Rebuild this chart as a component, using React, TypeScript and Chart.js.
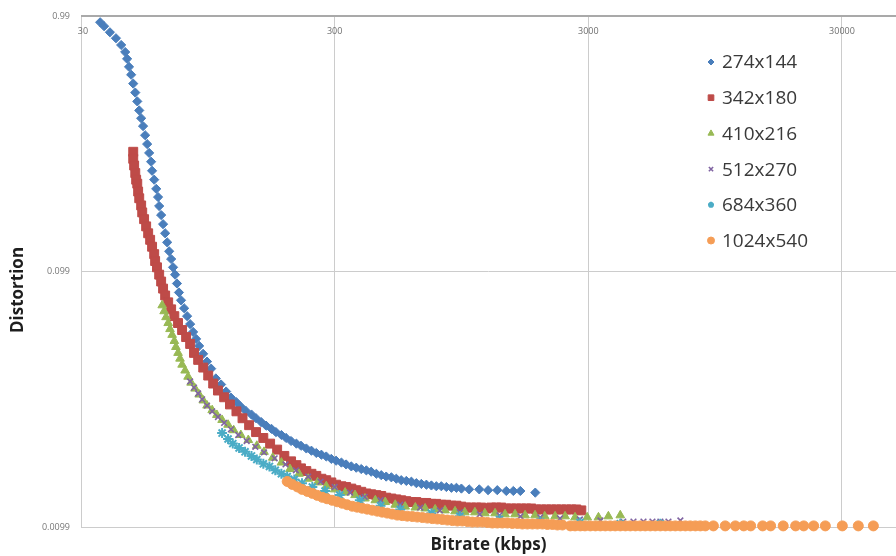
import React, { useEffect, useRef } from "react";
import { Chart, registerables } from "chart.js";
import { drawPoint } from "chart.js/helpers";

Chart.register(...registerables);

const seriesNames = ["274x144", "342x180", "410x216", "512x270", "684x360", "1024x540"];
const xTickValues = [30, 300, 3000, 30000];
const xTickLabels = ["30", "300", "3000", "30000"];
const yTickValues = [0.0099, 0.099, 0.99];
const yTickLabels = ["0.0099", "0.099", "0.99"];

const bitrate274 = [35.7, 37.0, 39.0, 41.2, 43.2, 44.8, 45.6, 46.4, 47.3, 48.2, 49.1, 50.0, 50.9, 51.8, 52.7, 53.7, 54.7, 55.7, 56.7, 57.2, 58.3, 59.4, 60.4, 61.0, 62.1, 63.2, 64.4, 65.6, 66.8, 68.0, 69.2, 70.5, 71.7, 73.0, 74.4, 76.5, 78.6, 80.8, 83.0, 85.3, 87.7, 90.9, 94.2, 97.8, 102, 107, 112, 117, 123, 128, 134, 141, 147, 154, 161, 169, 176, 185, 193, 202, 212, 221, 232, 243, 254, 266, 278, 291, 304, 319, 333, 349, 365, 382, 400, 418, 438, 458, 479, 502, 525, 549, 575, 602, 630, 659, 690, 722, 755, 790, 827, 866, 906, 948, 1017, 1115, 1208, 1313, 1425, 1519, 1619, 1854];
const distortion274 = [0.939, 0.906, 0.858, 0.813, 0.765, 0.718, 0.675, 0.628, 0.585, 0.540, 0.498, 0.460, 0.424, 0.395, 0.368, 0.339, 0.313, 0.289, 0.267, 0.246, 0.227, 0.209, 0.194, 0.179, 0.165, 0.152, 0.140, 0.129, 0.119, 0.111, 0.103, 0.0964, 0.0890, 0.0821, 0.0765, 0.0712, 0.0663, 0.0617, 0.0575, 0.0540, 0.0507, 0.0472, 0.0440, 0.0413, 0.0378, 0.0358, 0.0336, 0.0318, 0.0305, 0.0293, 0.0282, 0.0273, 0.0264, 0.0255, 0.0247, 0.0240, 0.0233, 0.0227, 0.0221, 0.0215, 0.0210, 0.0206, 0.0201, 0.0197, 0.0193, 0.0190, 0.0187, 0.0183, 0.0180, 0.0177, 0.0174, 0.0171, 0.0169, 0.0167, 0.0165, 0.0163, 0.0160, 0.0158, 0.0156, 0.0155, 0.0153, 0.0151, 0.0150, 0.0149, 0.0147, 0.0146, 0.0145, 0.0144, 0.0143, 0.0143, 0.0142, 0.0141, 0.0141, 0.0140, 0.0139, 0.0139, 0.0138, 0.0138, 0.0137, 0.0137, 0.0137, 0.0135];

const bitrate342 = [48.2, 48.2, 48.6, 49.1, 49.5, 50.0, 50.4, 50.9, 51.8, 52.3, 53.2, 54.2, 55.2, 56.2, 57.2, 58.3, 58.8, 59.8, 61.0, 62.1, 63.2, 64.4, 66.2, 68.0, 70.0, 72.4, 75.1, 77.9, 80.8, 83.7, 86.9, 91.0, 95.2, 99.6, 104, 110, 116, 123, 130, 138, 147, 157, 167, 178, 190, 202, 212, 221, 232, 243, 254, 266, 278, 291, 304, 319, 333, 349, 365, 382, 400, 418, 438, 458, 479, 502, 525, 549, 575, 602, 630, 659, 690, 722, 755, 790, 827, 866, 906, 948, 990, 1036, 1085, 1135, 1188, 1243, 1301, 1361, 1424, 1491, 1560, 1632, 1708, 1788, 1871, 1958, 2049, 2144, 2244, 2348, 2458, 2572, 2691, 2816];
const distortion342 = [0.292, 0.274, 0.258, 0.241, 0.227, 0.219, 0.204, 0.192, 0.180, 0.169, 0.159, 0.149, 0.140, 0.132, 0.124, 0.116, 0.109, 0.103, 0.0964, 0.0906, 0.0850, 0.0799, 0.0751, 0.0705, 0.0663, 0.0623, 0.0585, 0.0549, 0.0516, 0.0476, 0.0447, 0.0417, 0.0388, 0.0361, 0.0339, 0.0319, 0.0299, 0.0281, 0.0264, 0.0248, 0.0233, 0.0221, 0.0210, 0.0199, 0.0188, 0.0179, 0.0173, 0.0168, 0.0164, 0.0160, 0.0157, 0.0153, 0.0151, 0.0148, 0.0145, 0.0143, 0.0142, 0.0140, 0.0138, 0.0136, 0.0134, 0.0133, 0.0132, 0.0131, 0.0129, 0.0128, 0.0127, 0.0126, 0.0125, 0.0124, 0.0124, 0.0123, 0.0123, 0.0122, 0.0122, 0.0121, 0.0121, 0.0120, 0.0120, 0.0119, 0.0118, 0.0118, 0.0118, 0.0118, 0.0117, 0.0118, 0.0118, 0.0118, 0.0117, 0.0117, 0.0117, 0.0117, 0.0117, 0.0117, 0.0116, 0.0116, 0.0116, 0.0116, 0.0116, 0.0116, 0.0116, 0.0116, 0.0116, 0.0115];

const bitrate410 = [62.7, 63.8, 64.9, 66.2, 67.3, 68.6, 70.0, 71.0, 72.4, 73.7, 75.1, 77.2, 79.3, 81.5, 84.5, 87.7, 91.0, 94.2, 98.7, 103, 108, 114, 120, 128, 137, 148, 158, 171, 185, 200, 217, 236, 257, 278, 300, 330, 361, 395, 434, 475, 520, 569, 624, 682, 747, 817, 895, 978, 1072, 1173, 1287, 1409, 1543, 1690, 1850, 2020, 2220, 2430, 2660, 2970, 3290, 3600, 4010];
const distortion410 = [0.0731, 0.0693, 0.0657, 0.0623, 0.0590, 0.0560, 0.0530, 0.0502, 0.0476, 0.0452, 0.0428, 0.0406, 0.0384, 0.0364, 0.0345, 0.0327, 0.0310, 0.0296, 0.0284, 0.0272, 0.0260, 0.0249, 0.0237, 0.0227, 0.0217, 0.0206, 0.0195, 0.0185, 0.0177, 0.0167, 0.0160, 0.0153, 0.0148, 0.0143, 0.0139, 0.0135, 0.0132, 0.0128, 0.0126, 0.0124, 0.0121, 0.0119, 0.0118, 0.0117, 0.0116, 0.0115, 0.0114, 0.0113, 0.0113, 0.0112, 0.0112, 0.0111, 0.0111, 0.0110, 0.0110, 0.0109, 0.0109, 0.0109, 0.0108, 0.0108, 0.0108, 0.0109, 0.0110];

const bitrate512 = [80.8, 83.7, 86.9, 90.1, 94.2, 98.7, 104, 110, 117, 125, 135, 146, 158, 174, 192, 211, 236, 264, 300, 345, 394, 455, 544, 652, 780, 935, 1120, 1340, 1620, 1940, 2320, 2780, 3350, 4120, 4520, 4950, 5370, 5770, 6210, 6920];
const distortion512 = [0.0368, 0.0348, 0.0330, 0.0313, 0.0296, 0.0281, 0.0267, 0.0253, 0.0239, 0.0227, 0.0215, 0.0204, 0.0194, 0.0184, 0.0174, 0.0165, 0.0156, 0.0149, 0.0142, 0.0135, 0.0130, 0.0126, 0.0121, 0.0118, 0.0115, 0.0113, 0.0111, 0.0110, 0.0109, 0.0108, 0.0107, 0.0106, 0.0105, 0.0104, 0.0104, 0.0104, 0.0104, 0.0104, 0.0104, 0.0105];

const bitrate684 = [108, 114, 119, 126, 133, 141, 148, 157, 166, 175, 185, 195, 208, 223, 245, 275, 314, 377, 455, 544, 722, 935, 1340, 1940, 2780, 4010, 5770];
const distortion684 = [0.0231, 0.0219, 0.0210, 0.0202, 0.0195, 0.0188, 0.0182, 0.0175, 0.0171, 0.0165, 0.0160, 0.0156, 0.0152, 0.0147, 0.0142, 0.0137, 0.0132, 0.0126, 0.0120, 0.0116, 0.0112, 0.0109, 0.0106, 0.0104, 0.0103, 0.0102, 0.0102];

const bitrate1024 = [195, 204, 214, 223, 234, 245, 256, 268, 280, 293, 307, 321, 336, 352, 368, 385, 403, 422, 442, 462, 484, 506, 530, 554, 580, 607, 635, 665, 696, 728, 762, 797, 835, 873, 914, 956, 1001, 1047, 1096, 1147, 1200, 1256, 1314, 1375, 1439, 1506, 1576, 1649, 1726, 1806, 1890, 1978, 2070, 2166, 2267, 2372, 2549, 2660, 2790, 2910, 3055, 3200, 3346, 3500, 3663, 3830, 4011, 4200, 4392, 4600, 4810, 5030, 5267, 5510, 5768, 6040, 6316, 6610, 6917, 7240, 7574, 7930, 8294, 8680, 9340, 10400, 11400, 12300, 13100, 14600, 15700, 17600, 19700, 21200, 23200, 25800, 30100, 34800, 39900];
const distortion1024 = [0.01493, 0.01454, 0.01421, 0.01390, 0.01365, 0.01341, 0.01317, 0.01294, 0.01277, 0.01260, 0.01243, 0.01227, 0.01210, 0.01194, 0.01184, 0.01173, 0.01163, 0.01152, 0.01142, 0.01132, 0.01122, 0.01112, 0.01102, 0.01097, 0.01092, 0.01088, 0.01083, 0.01078, 0.01073, 0.01068, 0.01064, 0.01059, 0.01054, 0.01049, 0.01045, 0.01045, 0.01040, 0.01035, 0.01035, 0.01035, 0.01031, 0.01026, 0.01026, 0.01026, 0.01026, 0.01022, 0.01022, 0.01017, 0.01017, 0.01017, 0.01017, 0.01017, 0.01013, 0.01013, 0.01008, 0.01008, 0.0100, 0.0100, 0.0100, 0.0100, 0.0100, 0.0100, 0.0100, 0.0100, 0.0100, 0.0100, 0.0100, 0.0100, 0.0100, 0.0100, 0.0100, 0.0100, 0.0100, 0.0100, 0.0100, 0.0100, 0.0100, 0.0100, 0.0100, 0.0100, 0.0100, 0.0100, 0.0100, 0.0100, 0.0100, 0.0100, 0.0100, 0.0100, 0.0100, 0.0100, 0.0100, 0.0100, 0.0100, 0.0100, 0.0100, 0.0100, 0.0100, 0.0100, 0.0100];

const seriesX = [bitrate274, bitrate342, bitrate410, bitrate512, bitrate684, bitrate1024];
const seriesY = [distortion274, distortion342, distortion410, distortion512, distortion684, distortion1024];

const seriesColors = ["#4A7EBB", "#BE4B48", "#98B954", "#8064A2", "#4BACC6", "#F59D56"];
const seriesStyles = ["rectRot", "rect", "triangle", "crossRot", "star", "circle"];
const seriesRadius = [4.6, 6.3, 5, 4, 5, 5];
const legendRadius = [3, 4, 3.5, 3, 3, 3.5];

const overlayPlugin = {
  id: "overlay",
  afterDraw(chart: any) {
    const ctx = chart.ctx;
    const { top, left, right } = chart.chartArea;
    const xs = chart.scales.x;
    ctx.save();
    ctx.font = '9px "Open Sans"';
    ctx.fillStyle = "#6e6e6e";
    ctx.textAlign = "center";
    ctx.textBaseline = "middle";
    xTickValues.forEach((v, i) => {
      const px = xs.getPixelForValue(v);
      ctx.fillText(xTickLabels[i], i === 0 ? px + 2 : px, top + 15);
    });

    ctx.font = 'bold 17px "Open Sans"';
    ctx.fillStyle = "#1e1e1e";
    ctx.fillText("Bitrate (kbps)", (left + right) / 2, 545);
    ctx.save();
    ctx.translate(18, 290);
    ctx.rotate(-Math.PI / 2);
    ctx.fillText("Distortion", 0, 0);
    ctx.restore();

    ctx.font = '19px "Open Sans"';
    ctx.textAlign = "left";
    seriesNames.forEach((name, i) => {
      const y = 62 + i * 35.7;
      const ds = chart.data.datasets[i];
      ctx.fillStyle = ds.backgroundColor;
      ctx.strokeStyle = ds.borderColor;
      ctx.lineWidth = ds.borderWidth;
      drawPoint(ctx, { pointStyle: ds.pointStyle, radius: legendRadius[i], rotation: 0, borderWidth: ds.borderWidth }, 711, y);
      ctx.fillStyle = "#3a3a3a";
      ctx.fillText(name, 722, y + 1);
    });
    ctx.restore();
  },
};

export default function App() {
  const canvasRef = useRef<HTMLCanvasElement | null>(null);

  useEffect(() => {
    document.body.style.margin = "0";
    const canvas = canvasRef.current;
    if (!canvas) return;
    const datasets = seriesNames.map((name, i) => ({
      label: name,
      data: seriesX[i].map((x, j) => ({ x, y: seriesY[i][j] })),
      pointStyle: seriesStyles[i],
      pointRadius: seriesRadius[i],
      backgroundColor: seriesColors[i],
      borderColor: seriesColors[i],
      borderWidth: i === 3 ? 1.6 : i === 4 ? 2 : 1,
      showLine: false,
      order: 5 - i,
      clip: false,
    }));
    const chart = new Chart(canvas, {
      type: "scatter",
      data: { datasets },
      options: {
        responsive: false,
        animation: false,
        events: [],
        layout: { autoPadding: false, padding: { top: 11, bottom: 29, left: 0, right: 0 } },
        plugins: { legend: { display: false }, tooltip: { enabled: false } },
        scales: {
          x: {
            type: "logarithmic",
            min: 30,
            max: 49000,
            afterBuildTicks: (scale: any) => {
              scale.ticks = xTickValues.map((v) => ({ value: v }));
            },
            afterFit: (scale: any) => {
              scale.height = 0;
            },
            ticks: { display: false },
            grid: { color: "#cccccc", lineWidth: 1, drawTicks: false },
            border: { display: false },
          },
          y: {
            type: "logarithmic",
            min: 0.0099,
            max: 0.99,
            afterBuildTicks: (scale: any) => {
              scale.ticks = yTickValues.map((v) => ({ value: v }));
            },
            afterFit: (scale: any) => {
              scale.width = 81;
            },
            ticks: {
              padding: 11,
              font: { family: "Open Sans", size: 9 },
              color: "#777777",
              callback: (value: any) => {
                const k = yTickValues.indexOf(Number(value));
                return k >= 0 ? yTickLabels[k] : "";
              },
            },
            grid: {
              drawTicks: false,
              color: (c: any) => (c.tick && c.tick.value === 0.99 ? "#a9a9a9" : "#cccccc"),
              lineWidth: (c: any) => (c.tick && c.tick.value === 0.99 ? 2 : 1),
            },
            border: { display: false },
          },
        },
      },
      plugins: [overlayPlugin],
    });
    return () => chart.destroy();
  }, []);

  return (
    <div style={{ width: 896, height: 556, background: "#ffffff" }}>
      <canvas ref={canvasRef} width={896} height={556} style={{ display: "block" }} />
    </div>
  );
}
